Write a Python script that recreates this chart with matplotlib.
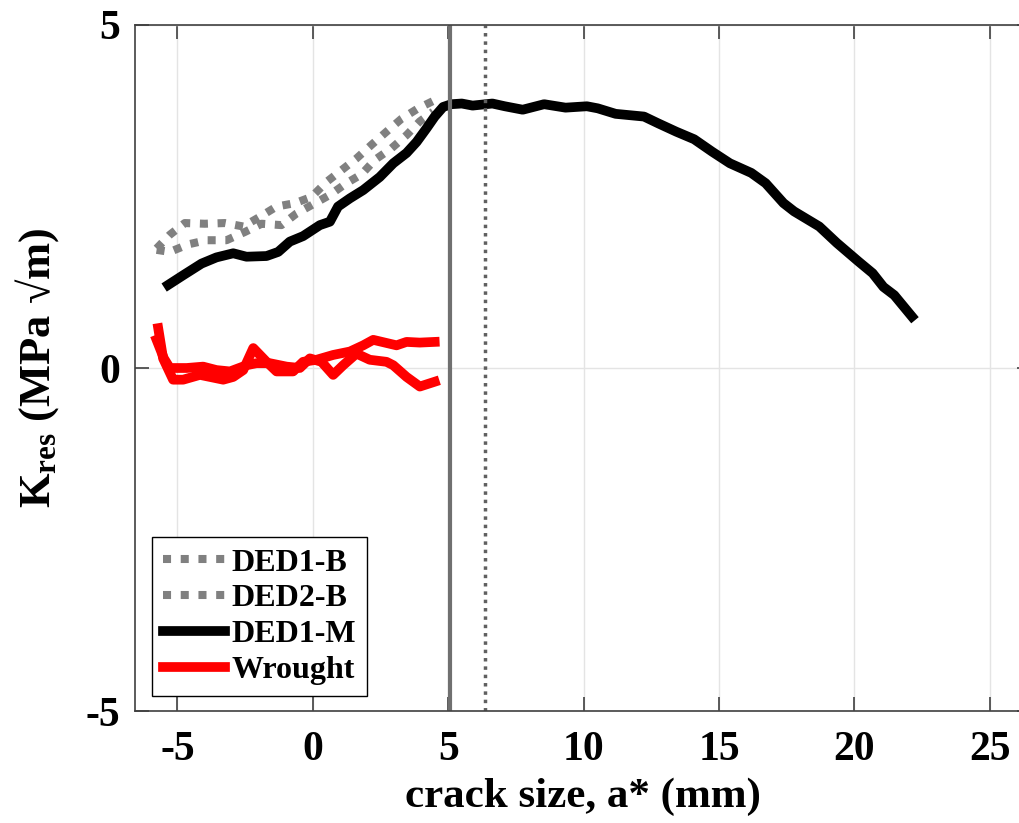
import numpy as np
import matplotlib
matplotlib.use("Agg")
import matplotlib.pyplot as plt

# ---- data ----
ded1m_x = [-5.34, -4.79, -4.11, -3.56, -2.94, -2.45, -1.71, -1.28, -0.85, -0.36, 0.26, 0.63,
           0.93, 1.37, 1.86, 2.47, 2.97, 3.46, 3.83, 4.20, 4.50, 4.81, 5.11, 5.50, 5.90, 6.63,
           7.09, 7.75, 8.54, 9.33, 10.12, 10.52, 11.18, 12.23, 12.76, 13.42, 14.08, 14.74,
           15.40, 16.19, 16.72, 17.38, 17.77, 18.70, 19.35, 20.15, 20.67, 21.07, 21.47, 22.12]
ded1m_y = [1.21, 1.35, 1.52, 1.61, 1.67, 1.62, 1.63, 1.69, 1.84, 1.92, 2.08, 2.13,
           2.35, 2.47, 2.59, 2.78, 2.98, 3.13, 3.29, 3.49, 3.66, 3.80, 3.84, 3.85, 3.82, 3.85,
           3.81, 3.76, 3.84, 3.79, 3.81, 3.78, 3.70, 3.66, 3.56, 3.44, 3.33, 3.15,
           2.98, 2.84, 2.69, 2.40, 2.28, 2.06, 1.82, 1.55, 1.38, 1.18, 1.06, 0.75]

ded1b_x = [-5.77, -5.28, -4.73, -3.99, -3.25, -2.57, -1.96, -1.34, -0.66, -0.05, 0.51, 1.06,
           1.61, 2.17, 2.72, 3.28, 3.89, 4.51]
ded1b_y = [1.74, 1.94, 2.11, 2.10, 2.11, 2.06, 2.20, 2.35, 2.40, 2.49, 2.71, 2.88,
           3.05, 3.25, 3.44, 3.63, 3.78, 3.90]

ded2b_x = [-5.77, -5.28, -4.60, -3.93, -3.19, -2.51, -1.89, -1.16, -0.60, -0.05, 0.63, 1.24,
           1.80, 2.29, 2.91, 3.46, 3.95, 4.44]
ded2b_y = [1.72, 1.69, 1.80, 1.86, 1.86, 1.98, 2.10, 2.08, 2.25, 2.37, 2.52, 2.69,
           2.82, 3.03, 3.20, 3.39, 3.59, 3.73]

wr1_x = [-5.71, -5.53, -5.16, -4.79, -4.17, -3.31, -2.94, -2.57, -2.20, -1.71, -1.34, -0.73,
         -0.36, 0.14, 0.75, 1.37, 1.86, 2.23, 3.09, 3.46, 3.95, 4.50]
wr1_y = [0.58, 0.14, -0.17, -0.17, -0.10, -0.17, -0.13, -0.03, 0.29, 0.09, -0.05, -0.05,
         0.09, 0.12, 0.19, 0.24, 0.33, 0.41, 0.33, 0.38, 0.37, 0.38]

wr2_x = [-5.77, -5.5, -5.28, -4.66, -4.05, -3.56, -3.06, -2.45, -2.08, -1.59, -0.97, -0.48,
         -0.11, 0.32, 0.75, 1.12, 1.61, 2.10, 2.72, 2.97, 3.46, 3.95, 4.50]
wr2_y = [0.41, 0.14, 0.0, 0.0, 0.02, -0.03, -0.05, 0.04, 0.07, 0.07, 0.02, 0.0,
         0.14, 0.09, -0.10, 0.04, 0.21, 0.12, 0.09, 0.04, -0.13, -0.27, -0.20]

vline_solid = 5.06
vline_dotted = 6.36

x_ticks = [-5, 0, 5, 10, 15, 20, 25]
y_ticks = [-5, 0, 5]

# ---- style ----
plt.rcParams['font.family'] = ['Liberation Serif', 'DejaVu Serif']
plt.rcParams['font.weight'] = 'bold'
plt.rcParams['axes.unicode_minus'] = False
plt.rcParams['mathtext.fontset'] = 'custom'
plt.rcParams['mathtext.rm'] = 'Liberation Serif:bold'
plt.rcParams['mathtext.bf'] = 'Liberation Serif:bold'
plt.rcParams['mathtext.it'] = 'Liberation Serif:bold'

grey = '#808080'
spine = '#404040'

fig = plt.figure(figsize=(10.2, 8.23), dpi=100)
ax = fig.add_axes([0.1328, 0.1355, 0.8775, 0.8347])

ax.plot(ded1b_x, ded1b_y, color=grey, lw=5.8, dashes=(1.0, 1.2), label='DED1-B')
ax.plot(ded2b_x, ded2b_y, color=grey, lw=5.8, dashes=(1.0, 1.2), label='DED2-B')
ax.plot(ded1m_x, ded1m_y, color='black', lw=7, solid_joinstyle='round', label='DED1-M')
ax.plot(wr1_x, wr1_y, color='red', lw=7, solid_joinstyle='round', label='Wrought')
ax.plot(wr2_x, wr2_y, color='red', lw=7, solid_joinstyle='round')

# crack tip markers
ax.axvline(vline_solid, color='#707070', lw=3)
ax.axvline(vline_dotted, color='#606060', lw=2.5, dashes=(1.0, 1.4))

ax.set_xlim(-6.55, 26.5)
ax.set_ylim(-5, 5)
ax.set_xticks(x_ticks)
ax.set_yticks(y_ticks)
ax.grid(True, color='#e4e4e4', lw=1)
ax.set_axisbelow(True)

for s in ax.spines.values():
    s.set_color(spine)
    s.set_linewidth(1.2)
ax.tick_params(direction='in', length=10, width=1.2, color=spine,
               top=True, right=True, labelsize=30)
ax.tick_params(axis='x', pad=14)
ax.tick_params(axis='y', pad=11)
for lab in ax.get_xticklabels() + ax.get_yticklabels():
    lab.set_fontweight('bold')

ax.set_xlabel('crack size, a* (mm)', fontsize=31, fontweight='bold', labelpad=6)
ax.set_ylabel(r'$\mathrm{K_{res}}$ (MPa √m)', fontsize=32, fontweight='bold', labelpad=18)

leg = ax.legend(loc='lower left', bbox_to_anchor=(0.0184, 0.0226), borderaxespad=0,
                prop={'weight': 'bold', 'size': 23}, handlelength=1.95,
                handletextpad=0.2, labelspacing=0.2, borderpad=0.35,
                fancybox=False, framealpha=1)
leg.get_frame().set_edgecolor('black')
leg.get_frame().set_linewidth(1)

fig.savefig('out.png', dpi=100)
